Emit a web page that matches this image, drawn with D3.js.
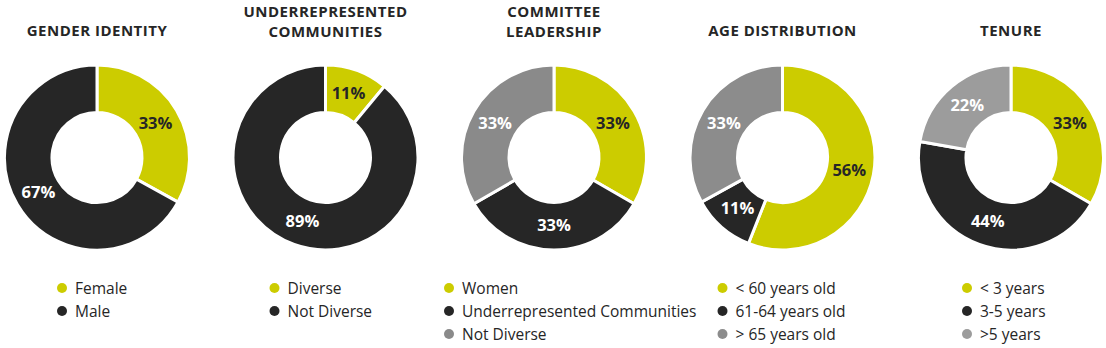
<!DOCTYPE html>
<html>
<head>
<meta charset="utf-8">
<script src="https://cdn.jsdelivr.net/npm/d3@7"></script>
<style>
  html, body { margin: 0; padding: 0; background: #ffffff; }
  svg { display: block; }
</style>
</head>
<body>
<svg id="chart" width="1106" height="348"></svg>
<script>
// ---- Data ----
const titles = [
  ["GENDER IDENTITY"],
  ["UNDERREPRESENTED", "COMMUNITIES"],
  ["COMMITTEE", "LEADERSHIP"],
  ["AGE DISTRIBUTION"],
  ["TENURE"]
];
const genderLabels = ["Female", "Male"];
const genderValues = [33, 67];
const communityLabels = ["Diverse", "Not Diverse"];
const communityValues = [11, 89];
const committeeLabels = ["Women", "Underrepresented Communities", "Not Diverse"];
const committeeValues = [33, 33, 33];
const ageLabels = ["< 60 years old", "61-64 years old", "> 65 years old"];
const ageValues = [56, 11, 33];
const tenureLabels = ["< 3 years", "3-5 years", ">5 years"];
const tenureValues = [33, 44, 22];

const charts = [
  { title: titles[0], labels: genderLabels, values: genderValues, colors: ["#cccc00", "#262626"] },
  { title: titles[1], labels: communityLabels, values: communityValues, colors: ["#cccc00", "#262626"] },
  { title: titles[2], labels: committeeLabels, values: committeeValues, colors: ["#cccc00", "#262626", "#8a8a8a"] },
  { title: titles[3], labels: ageLabels, values: ageValues, colors: ["#cccc00", "#262626", "#8c8c8c"] },
  { title: titles[4], labels: tenureLabels, values: tenureValues, colors: ["#cccc00", "#262626", "#9c9c9c"] }
];

// ---- Layout ----
const svg = d3.select("#chart");
const font = "'Open Sans', 'Noto Sans', sans-serif";
const xScale = d3.scalePoint().domain(d3.range(charts.length)).range([97, 1011]);
const cy = 157.5;
const outerR = 92.5, innerR = 45;
const legendOffsets = [-35, -51, -105, -60, -44];

const pie = d3.pie().sort(null).value(d => d);
const arc = d3.arc().innerRadius(innerR).outerRadius(outerR);
const labelArc = d3.arc().innerRadius(68).outerRadius(68);

charts.forEach((c, i) => {
  const cx = xScale(i);
  const g = svg.append("g");

  // title (each line its own text element)
  const lines = c.title;
  const ys = lines.length === 1 ? [36] : [16.5, 37];
  lines.forEach((line, j) => {
    g.append("text")
      .attr("x", cx)
      .attr("y", ys[j])
      .attr("text-anchor", "middle")
      .attr("font-family", font)
      .attr("font-weight", 700)
      .attr("font-size", 15)
      .attr("letter-spacing", 0.5)
      .attr("fill", "#262626")
      .text(line);
  });

  // donut
  const dg = g.append("g").attr("transform", `translate(${cx},${cy})`);
  const arcs = pie(c.values);
  dg.selectAll("path").data(arcs).enter().append("path")
    .attr("d", arc)
    .attr("fill", (d, k) => c.colors[k])
    .attr("stroke", "#ffffff")
    .attr("stroke-width", 3)
    .attr("stroke-linejoin", "miter");

  dg.selectAll("text").data(arcs).enter().append("text")
    .attr("transform", d => `translate(${labelArc.centroid(d)})`)
    .attr("text-anchor", "middle")
    .attr("dy", "0.35em")
    .attr("font-family", font)
    .attr("font-weight", 700)
    .attr("font-size", 16.5)
    .attr("fill", (d, k) => k === 0 ? "#262626" : "#ffffff")
    .text(d => d.data + "%");

  // legend
  const lx = cx + legendOffsets[i];
  const lg = g.append("g").attr("transform", `translate(${lx},288)`);
  c.labels.forEach((lab, k) => {
    const row = lg.append("g").attr("transform", `translate(0,${k * 23})`);
    row.append("circle").attr("r", 5).attr("fill", c.colors[k]);
    row.append("text")
      .attr("x", 13)
      .attr("y", 6)
      .attr("font-family", font)
      .attr("font-size", 15.5)
      .attr("fill", "#262626")
      .text(lab);
  });
});
</script>
</body>
</html>
